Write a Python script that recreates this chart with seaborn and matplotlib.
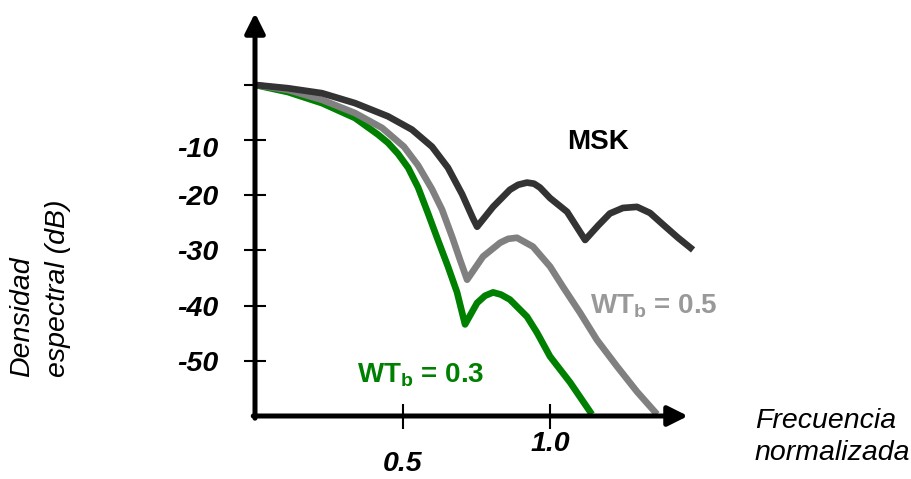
import matplotlib
matplotlib.use("Agg")
import matplotlib.pyplot as plt
import matplotlib.transforms as mtrans
import numpy as np
import pandas as pd
import seaborn as sns

# ---- data ----
msk_x = [0.0, 0.112, 0.227, 0.339, 0.451, 0.532, 0.600, 0.654, 0.702, 0.739, 0.753, 0.807, 0.864, 0.892,
         0.922, 0.946, 0.966, 1.0, 1.058, 1.119, 1.163, 1.203, 1.247, 1.295, 1.339, 1.383, 1.434, 1.485]
msk_y = [0.0, -0.6, -1.5, -3.3, -5.7, -8.1, -11.2, -15.0, -19.8, -24.2, -25.7, -22.1, -19.0, -18.1,
         -17.7, -17.9, -18.6, -20.5, -23.0, -28.1, -25.5, -23.3, -22.3, -22.1, -23.2, -25.3, -27.7, -29.9]

wt05_x = [0.0, 0.112, 0.227, 0.339, 0.431, 0.505, 0.553, 0.600, 0.634, 0.668, 0.695, 0.719, 0.773, 0.831,
          0.858, 0.888, 0.942, 1.0, 1.044, 1.102, 1.159, 1.227, 1.295, 1.363]
wt05_y = [0.0, -0.9, -2.7, -5.1, -7.8, -11.2, -14.6, -18.9, -22.6, -27.5, -31.7, -35.3, -31.1, -28.6,
          -27.9, -27.7, -29.3, -32.9, -36.6, -41.3, -46.2, -51.0, -55.6, -59.7]

wt03_x = [0.0, 0.112, 0.227, 0.339, 0.417, 0.451, 0.485, 0.519, 0.553, 0.586, 0.620, 0.654, 0.685, 0.712,
          0.753, 0.780, 0.807, 0.834, 0.864, 0.922, 0.956, 1.0, 1.068, 1.142]
wt03_y = [0.0, -1.3, -3.3, -6.0, -9.0, -10.5, -12.5, -15.0, -18.6, -23.2, -28.1, -32.9, -37.6, -43.4,
          -39.5, -38.2, -37.6, -38.0, -38.9, -42.0, -44.9, -49.2, -53.9, -59.7]

series_names = ["WT03", "WT05", "MSK"]
series_colors = ["#008000", "#808080", "#333333"]

y_ticks = [0, -10, -20, -30, -40, -50]
y_tick_labels = ["", "-10", "-20", "-30", "-40", "-50"]
x_tick_major = [1.0]
x_tick_major_labels = ["1.0"]
x_tick_minor = [0.5]
x_tick_minor_labels = ["0.5"]

label_msk = "MSK"
label_wt05 = r"WT$_{\mathbf{b}}$ = 0.5"
label_wt03 = r"WT$_{\mathbf{b}}$ = 0.3"
xlabel_text = "Frecuencia\nnormalizada"
ylabel_text = "Densidad\nespectral (dB)"

df = pd.concat([
    pd.DataFrame({"f": wt03_x, "psd": wt03_y, "serie": "WT03"}),
    pd.DataFrame({"f": wt05_x, "psd": wt05_y, "serie": "WT05"}),
    pd.DataFrame({"f": msk_x, "psd": msk_y, "serie": "MSK"}),
], ignore_index=True)

# ---- style ----
sns.set_style("white")
plt.rcParams["font.family"] = ["Liberation Sans", "DejaVu Sans"]
plt.rcParams["mathtext.fontset"] = "custom"
plt.rcParams["mathtext.rm"] = "Liberation Sans"
plt.rcParams["mathtext.bf"] = "Liberation Sans:bold"
plt.rcParams["text.color"] = "black"

W, H, DPI = 911, 479, 100
fig = plt.figure(figsize=(W / DPI, H / DPI), dpi=DPI)
# axes: x=0 at px 255, y=-60 at px 416; arrow tips at px 688 (x) and px 13 (y)
ax = fig.add_axes([255 / W, (H - 416) / H, (688 - 255) / W, (416 - 13) / H])
x_max = (688 - 255) / 295.0
y_max = (85 - 13) / 5.525
ax.set_xlim(0, x_max)
ax.set_ylim(-60, y_max)

sns.lineplot(data=df, x="f", y="psd", hue="serie", hue_order=series_names,
             palette=dict(zip(series_names, series_colors)), sort=False,
             estimator=None, linewidth=4.8, legend=False, ax=ax)
for ln in ax.lines:
    ln.set_clip_on(False)
    ln.set_solid_capstyle("butt")
    ln.set_solid_joinstyle("round")

for s in ax.spines.values():
    s.set_visible(False)

# axis arrows
arrow_kw = dict(arrowstyle="-|>", mutation_scale=30, lw=3.6, color="black",
                shrinkA=0, shrinkB=0)
ax.annotate("", xy=(x_max, -60), xytext=(-0.006, -60), xycoords="data",
            arrowprops=arrow_kw, annotation_clip=False)
ax.annotate("", xy=(0, y_max), xytext=(0, -60.4), xycoords="data",
            arrowprops=arrow_kw, annotation_clip=False)

# ticks
tick_font = dict(fontsize=20.5, fontweight="bold", fontstyle="italic")
ax.set_yticks(y_ticks)
ax.set_yticklabels(y_tick_labels, **tick_font)
ax.tick_params(axis="y", which="major", direction="inout", length=16, width=1.5,
               pad=18, colors="black", left=True)
ax.set_xticks(x_tick_major)
ax.set_xticklabels(x_tick_major_labels, **tick_font)
ax.set_xticks(x_tick_minor, minor=True)
ax.set_xticklabels(x_tick_minor_labels, minor=True, **tick_font)
ax.tick_params(axis="x", which="major", direction="inout", length=18, width=1.5,
               pad=2, colors="black", bottom=True)
ax.tick_params(axis="x", which="minor", direction="inout", length=18, width=1.5,
               pad=16, colors="black", bottom=True)
ax.set_xlabel("")
ax.set_ylabel("")

# nudge the "-10" label slightly downward as in the reference
lab = ax.yaxis.get_major_ticks()[1].label1
lab.set_transform(lab.get_transform() + mtrans.ScaledTranslation(0, -7 / DPI, fig.dpi_scale_trans))

# curve labels
ax.text(1.058, -11.6, label_msk, fontsize=20, fontweight="bold", color="black",
        ha="left", va="baseline")
ax.text(1.136, -41.3, label_wt05, fontsize=20, fontweight="bold", color="#999999",
        ha="left", va="baseline")
ax.text(0.346, -53.9, label_wt03, fontsize=20, fontweight="bold", color="#008000",
        ha="left", va="baseline")

# axis titles
fig.text(755 / W, (H - 437) / H, xlabel_text, fontsize=20.5, fontstyle="italic",
         color="black", ha="left", va="center", multialignment="left", linespacing=1.25)
fig.text(40 / W, (H - 377) / H, ylabel_text, fontsize=20.5, fontstyle="italic",
         color="black", rotation=90, ha="center", va="bottom", multialignment="left",
         linespacing=1.5)

fig.savefig("out.png", dpi=DPI)
